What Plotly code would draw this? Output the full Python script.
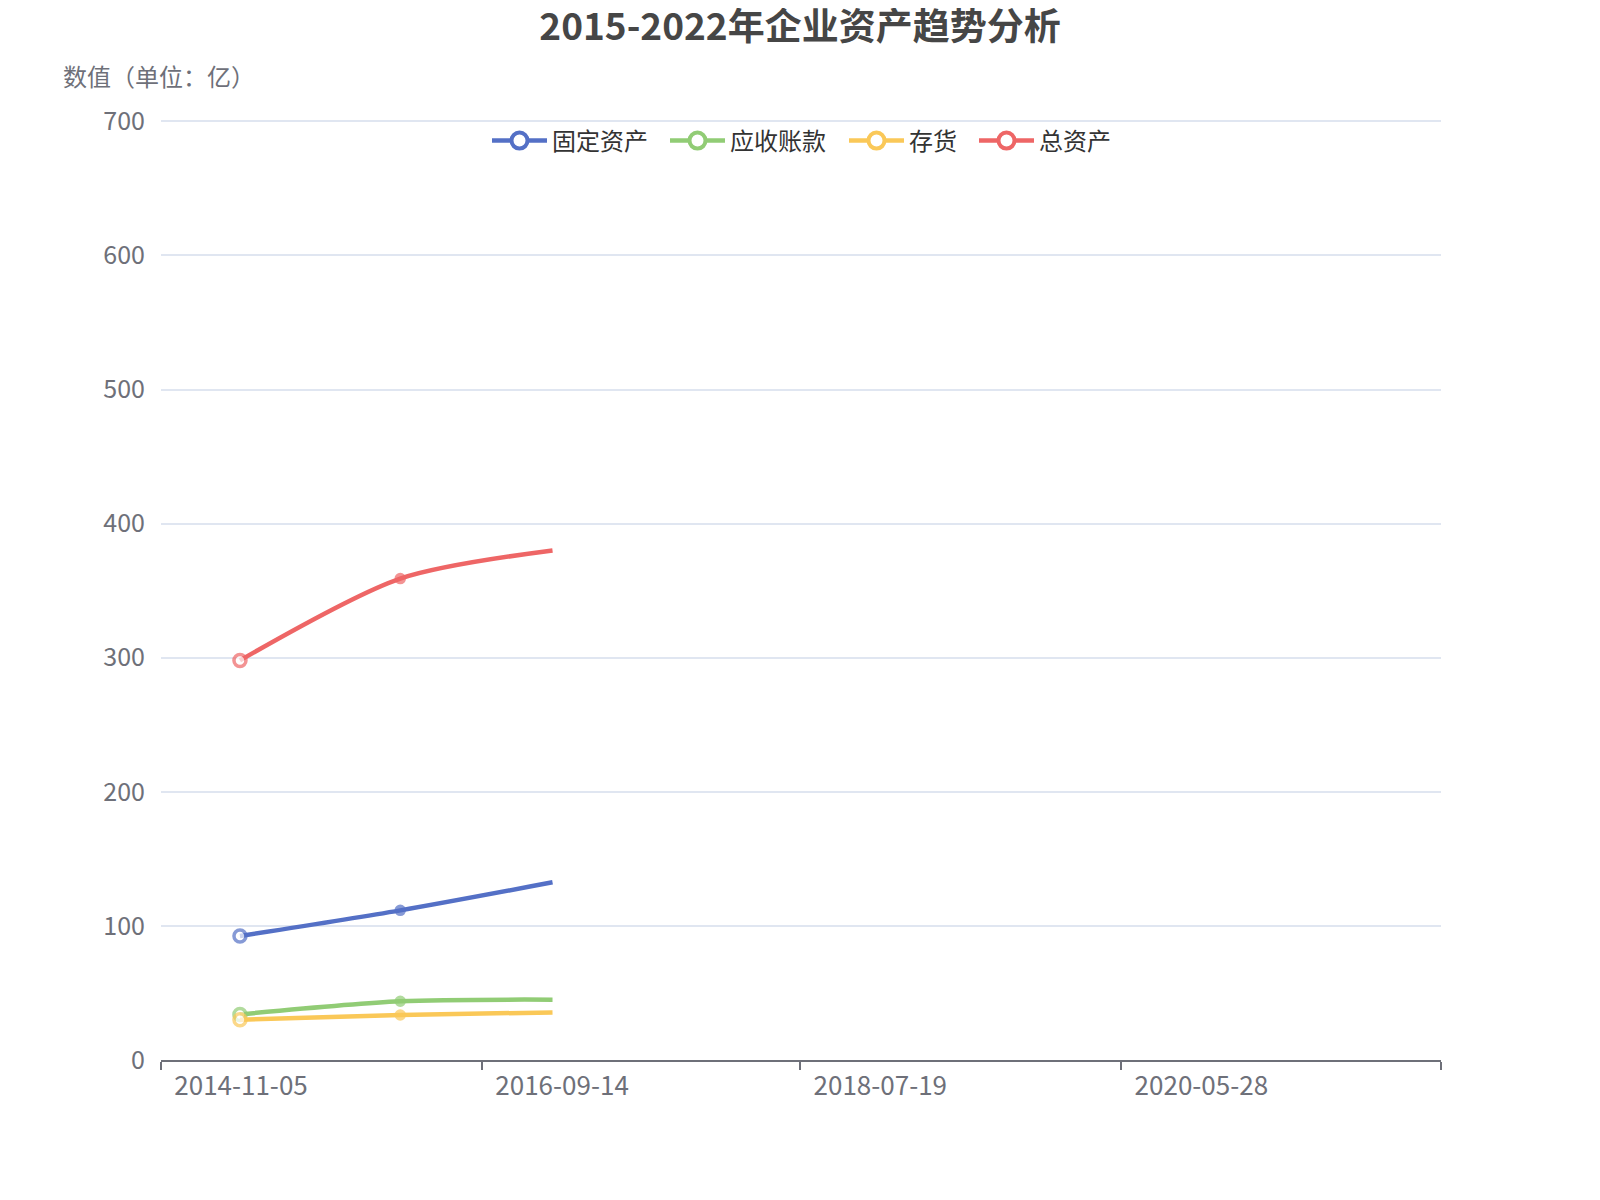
import plotly.graph_objects as go

# 数据（从图上读取，动画截图中只显示了前几个点）
dates = ["2015-04-21", "2016-03-25", "2017-02-10"]
fixed_assets = [92.5, 111.6, 132.5]
receivables = [34.0, 43.8, 45.0]
inventory = [30.0, 33.6, 35.5]
total_assets = [298.0, 359.0, 380.0]

series_names = ["固定资产", "应收账款", "存货", "总资产"]
series_colors = ["#5470c6", "#91cc75", "#fac858", "#ee6666"]
series_values = [fixed_assets, receivables, inventory, total_assets]

tick_dates = ["2014-11-05", "2016-09-14", "2018-07-19", "2020-05-28", "2022-04-04"]
tick_labels = ["2014-11-05", "2016-09-14", "2018-07-19", "2020-05-28", ""]
y_ticks = [0, 100, 200, 300, 400, 500, 600, 700]

FONT = "Noto Sans CJK SC"
AXIS_GREY = "#6E7079"

# 画布尺寸与绘图区（像素，页面 body 自带 8px 边距已扣除）
W, H = 1600, 1200
PL, PR, PT, PB = 153, 167, 108, 148
PW, PH = W - PL - PR, H - PT - PB

legend_left_px = [479, 657, 836, 966]
legend_keys = ["legend", "legend2", "legend3", "legend4"]

fig = go.Figure()

for name, color, values in zip(series_names, series_colors, series_values):
    fig.add_trace(go.Scatter(
        x=dates,
        y=values,
        mode="lines+markers",
        name=name,
        showlegend=False,
        line=dict(color=color, width=4.5, shape="spline", smoothing=0.8),
        marker=dict(
            size=[12, 8, 0],
            color=["#ffffff", color, color],
            line=dict(color=color, width=3.5),
        ),
    ))

# 图例用的空 trace（空心圆 + 线），每项一个 legend 以控制间距
for name, color, key in zip(series_names, series_colors, legend_keys):
    fig.add_trace(go.Scatter(
        x=[None],
        y=[None],
        mode="lines+markers",
        name=name,
        legend=key,
        line=dict(color=color, width=4.5),
        marker=dict(size=16, color="#ffffff", line=dict(color=color, width=4)),
    ))

legend_layouts = {}
for key, left in zip(legend_keys, legend_left_px):
    legend_layouts[key] = dict(
        orientation="h",
        x=(left - PL) / PW,
        xref="paper",
        xanchor="left",
        y=(H - PB - 133) / PH,
        yref="paper",
        yanchor="middle",
        font=dict(family=FONT, size=24, color="#333333"),
        itemwidth=55,
        bgcolor="rgba(0,0,0,0)",
    )

fig.update_layout(
    width=W,
    height=H,
    template="plotly_white",
    plot_bgcolor="#ffffff",
    paper_bgcolor="#ffffff",
    font=dict(family=FONT, color=AXIS_GREY),
    margin=dict(l=PL, r=PR, t=PT, b=PB, autoexpand=False),
    title=dict(
        text="<b>2015-2022年企业资产趋势分析</b>",
        x=792 / W,
        xref="container",
        xanchor="center",
        y=1 - 19 / H,
        yref="container",
        yanchor="middle",
        font=dict(family=FONT, size=37, color="#464646"),
    ),
    xaxis=dict(
        type="date",
        range=[tick_dates[0], tick_dates[-1]],
        tickmode="array",
        tickvals=tick_dates,
        ticktext=tick_labels,
        ticklabelshift=80,
        ticklabelstandoff=-6,
        ticks="outside",
        ticklen=8,
        tickwidth=2,
        tickcolor=AXIS_GREY,
        showline=True,
        linecolor=AXIS_GREY,
        linewidth=2,
        showgrid=False,
        zeroline=False,
        automargin=False,
        tickfont=dict(family=FONT, size=26, color=AXIS_GREY),
    ),
    yaxis=dict(
        range=[0, 704],
        tickvals=y_ticks,
        showgrid=True,
        gridcolor="#E0E6F1",
        gridwidth=1.5,
        zeroline=False,
        showline=False,
        ticks="",
        ticklabelstandoff=15,
        automargin=False,
        tickfont=dict(family=FONT, size=25, color=AXIS_GREY),
    ),
    annotations=[dict(
        text="数值（单位：亿）",
        xref="paper",
        yref="paper",
        x=(53 - PL) / PW,
        y=(H - PB - 67) / PH,
        xanchor="left",
        yanchor="middle",
        showarrow=False,
        font=dict(family=FONT, size=24, color=AXIS_GREY),
    )],
    **legend_layouts,
)

fig.write_html("out.html")
